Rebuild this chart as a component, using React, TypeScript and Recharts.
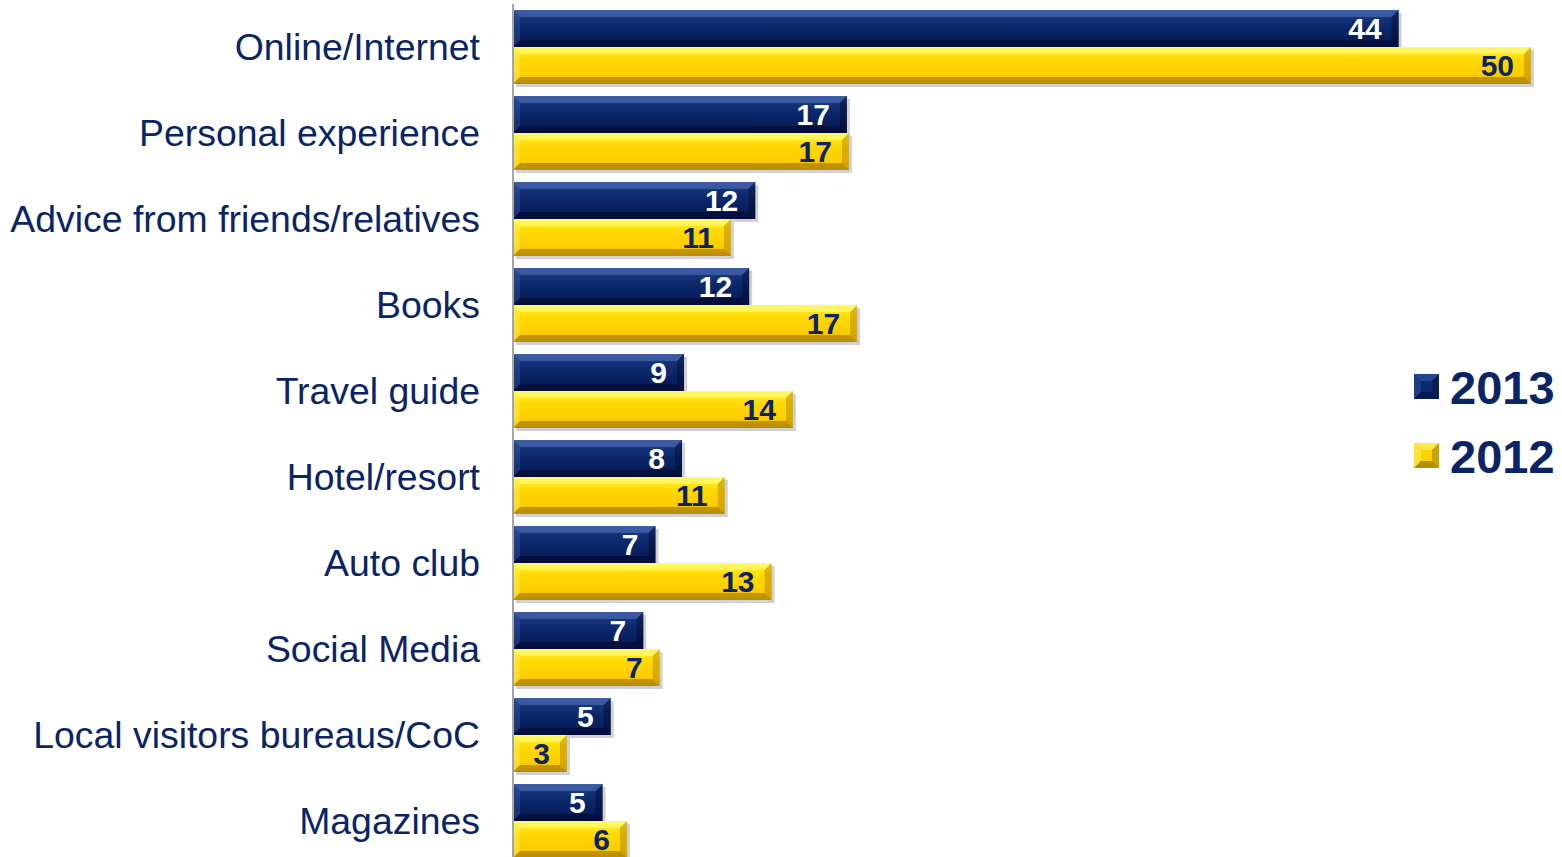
import React from "react";
import { BarChart, Bar, XAxis, YAxis, LabelList } from "recharts";

const categories = [
  "Online/Internet",
  "Personal experience",
  "Advice from friends/relatives",
  "Books",
  "Travel guide",
  "Hotel/resort",
  "Auto club",
  "Social Media",
  "Local visitors bureaus/CoC",
  "Magazines",
];
// bar lengths
const values2013 = [43.5, 16.4, 11.9, 11.6, 8.4, 8.3, 7.0, 6.4, 4.8, 4.4];
const values2012 = [50, 16.5, 10.7, 16.9, 13.75, 10.4, 12.7, 7.2, 2.65, 5.6];
// printed labels
const labels2013 = [44, 17, 12, 12, 9, 8, 7, 7, 5, 5];
const labels2012 = [50, 17, 11, 17, 14, 11, 13, 7, 3, 6];
const seriesNames = ["2013", "2012"];

const data = categories.map((c, i) => ({
  name: c,
  v2013: values2013[i],
  v2012: values2012[i],
  l2013: labels2013[i],
  l2012: labels2012[i],
}));

const NAVY = "#0b2466";
const TEXT = "#0b2466";
const FONT = "'Liberation Sans', Arial, sans-serif";

function BevelBar(props: any) {
  const { x, y, width, height, kind } = props;
  if (!width || width <= 0) return null;
  const b = Math.min(7, width / 2, height / 2);
  const gid = kind === "navy" ? "gNavy" : "gGold";
  const light = kind === "navy" ? "rgba(120,150,220,0.35)" : "rgba(255,255,140,0.55)";
  const lightL = kind === "navy" ? "rgba(90,120,200,0.25)" : "rgba(255,250,120,0.35)";
  const dark = kind === "navy" ? "rgba(0,0,30,0.45)" : "rgba(150,110,0,0.55)";
  const darkR = kind === "navy" ? "rgba(0,0,30,0.35)" : "rgba(170,125,0,0.45)";
  const x2 = x + width;
  const y2 = y + height;
  return (
    <g>
      <rect x={x + 3} y={y + 3} width={width} height={height} fill="rgba(0,0,0,0.18)" />
      <rect x={x} y={y} width={width} height={height} fill={`url(#${gid})`} />
      <polygon points={`${x},${y} ${x2},${y} ${x2 - b},${y + b} ${x + b},${y + b}`} fill={light} />
      <polygon points={`${x},${y} ${x + b},${y + b} ${x + b},${y2 - b} ${x},${y2}`} fill={lightL} />
      <polygon points={`${x2},${y} ${x2},${y2} ${x2 - b},${y2 - b} ${x2 - b},${y + b}`} fill={darkR} />
      <polygon points={`${x},${y2} ${x + b},${y2 - b} ${x2 - b},${y2 - b} ${x2},${y2}`} fill={dark} />
    </g>
  );
}

function LegendSwatch({ kind }: { kind: string }) {
  const s = 25;
  const b = 7;
  const base = kind === "navy" ? "#0d2a70" : "#ffd000";
  const light = kind === "navy" ? "#24468f" : "#ffe94a";
  const dark = kind === "navy" ? "#051a4e" : "#b58e00";
  return (
    <svg width={s + 3} height={s + 3} style={{ display: "block" }}>
      <rect x={0} y={0} width={s} height={s} fill={base} />
      <polygon points={`0,0 ${s},0 ${s - b},${b} ${b},${b}`} fill={light} />
      <polygon points={`0,0 ${b},${b} ${b},${s - b} 0,${s}`} fill={light} opacity={0.7} />
      <polygon points={`${s},0 ${s},${s} ${s - b},${s - b} ${s - b},${b}`} fill={dark} opacity={0.7} />
      <polygon points={`0,${s} ${b},${s - b} ${s - b},${s - b} ${s},${s}`} fill={dark} />
    </svg>
  );
}

function LegendContent() {
  const kinds = ["navy", "gold"];
  return (
    <div style={{ fontFamily: FONT }}>
      {seriesNames.map((n, i) => (
        <div key={n} style={{ display: "flex", alignItems: "center", height: 69 }}>
          <LegendSwatch kind={kinds[i]} />
          <span style={{ marginLeft: 8, fontSize: 47, fontWeight: 700, color: TEXT }}>{n}</span>
        </div>
      ))}
    </div>
  );
}

export default function App() {
  return (
    <div style={{ position: "absolute", left: 0, top: 0, width: 1562, height: 857, overflow: "hidden", background: "#fff" }}>
      <BarChart
        width={1562}
        height={868}
        data={data}
        layout="vertical"
        margin={{ top: 4, right: 31, bottom: 4, left: 0 }}
        barCategoryGap={6}
        barGap={0}
      >
        <defs>
          <linearGradient id="gNavy" x1="0" y1="0" x2="0" y2="1">
            <stop offset="0" stopColor="#1f3f86" />
            <stop offset="0.35" stopColor="#0f2c72" />
            <stop offset="0.7" stopColor="#07205f" />
            <stop offset="1" stopColor="#061a52" />
          </linearGradient>
          <linearGradient id="gGold" x1="0" y1="0" x2="0" y2="1">
            <stop offset="0" stopColor="#fff23a" />
            <stop offset="0.35" stopColor="#ffd800" />
            <stop offset="0.75" stopColor="#ffcd00" />
            <stop offset="1" stopColor="#e8b400" />
          </linearGradient>
        </defs>
        <XAxis type="number" domain={[0, 50]} hide />
        <YAxis
          type="category"
          dataKey="name"
          width={513}
          axisLine={{ stroke: "#a6a6a6", strokeWidth: 2 }}
          tickLine={false}
          tickSize={0}
          tickMargin={33}
          interval={0}
          tick={{ fontSize: 37.4, fill: TEXT, fontFamily: FONT }}
        />
        <Bar dataKey="v2013" name="2013" fill={NAVY} isAnimationActive={false} shape={(p: any) => <BevelBar {...p} kind="navy" />}>
          <LabelList
            dataKey="l2013"
            position="insideRight"
            offset={17}
            fill="#ffffff"
            fontSize={30}
            fontWeight={700}
            fontFamily={FONT}
          />
        </Bar>
        <Bar dataKey="v2012" name="2012" fill="#ffd000" isAnimationActive={false} shape={(p: any) => <BevelBar {...p} kind="gold" />}>
          <LabelList
            dataKey="l2012"
            position="insideRight"
            offset={17}
            fill={NAVY}
            fontSize={30}
            fontWeight={700}
            fontFamily={FONT}
          />
        </Bar>
      </BarChart>
      <div style={{ position: "absolute", left: 1414, top: 353 }}>
        <LegendContent />
      </div>
    </div>
  );
}
